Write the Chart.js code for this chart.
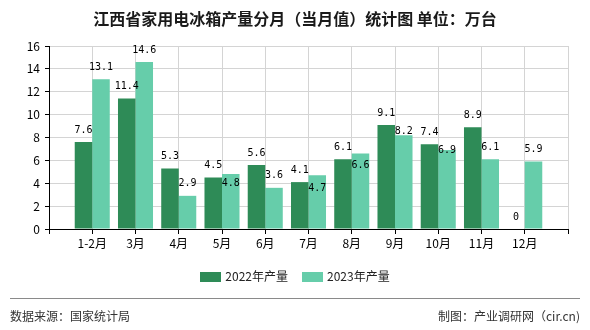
<!DOCTYPE html>
<html>
<head>
<meta charset="utf-8">
<script src="https://cdn.jsdelivr.net/npm/chart.js@4.4.0/dist/chart.umd.min.js"></script>
<style>
  body { margin: 0; width: 590px; height: 330px; overflow: hidden; background: #fff; position: relative;
         font-family: 'Noto Sans CJK SC', sans-serif; }
  #chart { position: absolute; left: 0; top: 0; }
  #title { position: absolute; top: 8px; left: 0; width: 590px; text-align: center;
           font-size: 16px; font-weight: bold; line-height: 20px; color: #1a1a1a; }
  #legend { position: absolute; top: 268px; left: 0; width: 590px; text-align: center;
            font-size: 12px; line-height: 16px; color: #222; }
  #legend span.item { display: inline-block; margin: 0 7px; }
  #legend i { display: inline-block; width: 21px; height: 10px; margin-right: 4px; vertical-align: -1px; }
  #rule { position: absolute; left: 10px; top: 298px; width: 570px; height: 1px; background: #8a8a8a; }
  .foot { position: absolute; top: 308px; font-size: 12px; line-height: 16px; color: #333; }
  #src { left: 10px; }
  #maker { right: 10px; }
</style>
</head>
<body>
<canvas id="chart" width="590" height="330"></canvas>
<div id="title">江西省家用电冰箱产量分月（当月值）统计图 单位：万台</div>
<div id="legend"></div>
<div id="rule"></div>
<div class="foot" id="src">数据来源：国家统计局</div>
<div class="foot" id="maker">制图：产业调研网（cir.cn)</div>
<script>
// ── data ────────────────────────────────────────────────
const MONTHS      = ['1-2月','3月','4月','5月','6月','7月','8月','9月','10月','11月','12月'];
const SERIES      = ['2022年产量','2023年产量'];
const OUTPUT_2022 = [7.6, 11.4, 5.3, 4.5, 5.6, 4.1, 6.1, 9.1, 7.4, 8.9, 0];
const OUTPUT_2023 = [13.1, 14.6, 2.9, 4.8, 3.6, 4.7, 6.6, 8.2, 6.9, 6.1, 5.9];
const Y_TICKS     = [0, 2, 4, 6, 8, 10, 12, 14, 16];

const COLORS = ['#2E8B57', '#66CDAA'];

// empty slot on each side, like the original axis
const pad = arr => [null, ...arr, null];

// legend as html
document.getElementById('legend').innerHTML = SERIES
  .map((s, i) => `<span class="item"><i style="background:${COLORS[i]}"></i>${s}</span>`)
  .join('');

// ── value labels above bars ─────────────────────────────
const valueLabels = {
  id: 'valueLabels',
  afterDatasetsDraw(chart) {
    const ctx = chart.ctx;
    const m0 = chart.getDatasetMeta(0);
    const m1 = chart.getDatasetMeta(1);
    const d0 = chart.data.datasets[0].data;
    const d1 = chart.data.datasets[1].data;
    ctx.save();
    ctx.font = '10px "DejaVu Sans Mono", monospace';
    ctx.fillStyle = '#000';
    ctx.textAlign = 'center';
    ctx.textBaseline = 'middle';
    m0.data.forEach((bar, i) => {
      let y0 = null;
      if (d0[i] != null) {
        y0 = bar.y - 12;
        ctx.fillText(String(d0[i]), bar.x, y0);
      }
      if (d1[i] != null) {
        const b1 = m1.data[i];
        let y1 = b1.y - 12;
        // push down when it would collide with the 2022 label
        if (y0 !== null && Math.abs(y1 - y0) < 16) y1 = y0 + 18;
        ctx.fillText(String(d1[i]), b1.x, y1);
      }
    });
    ctx.restore();
  }
};

Chart.defaults.font.family = "'Noto Sans CJK SC', sans-serif";
Chart.defaults.color = '#000';

new Chart(document.getElementById('chart'), {
  type: 'bar',
  data: {
    labels: ['', ...MONTHS, ''],
    datasets: [
      { label: SERIES[0], data: pad(OUTPUT_2022), backgroundColor: COLORS[0] },
      { label: SERIES[1], data: pad(OUTPUT_2023), backgroundColor: COLORS[1] },
    ],
  },
  options: {
    responsive: false,
    animation: false,
    events: [],
    categoryPercentage: 0.81,
    barPercentage: 1.0,
    layout: { padding: { left: 0, top: 46, right: 22, bottom: 79 } },
    plugins: {
      legend: { display: false },
      tooltip: { enabled: false },
    },
    scales: {
      x: {
        offset: false,
        afterFit: s => { s.height = 22; },
        grid: { offset: false, color: '#d4d4d4', tickColor: '#000', tickLength: 5 },
        border: { color: '#000' },
        ticks: { autoSkip: false, maxRotation: 0, padding: 2, font: { size: 12 }, color: '#000' },
      },
      y: {
        min: Y_TICKS[0],
        max: Y_TICKS[Y_TICKS.length - 1],
        afterFit: s => { s.width = 49; },
        grid: { color: '#d4d4d4', tickColor: '#000', tickLength: 4 },
        border: { color: '#000' },
        ticks: { stepSize: Y_TICKS[1] - Y_TICKS[0], padding: 5, font: { size: 12 }, color: '#000' },
      },
    },
  },
  plugins: [valueLabels],
});
</script>
</body>
</html>
